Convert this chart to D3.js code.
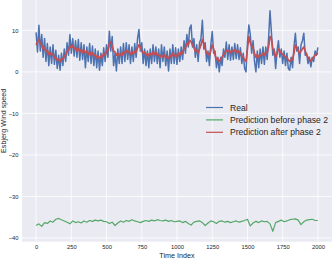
<!DOCTYPE html>
<html>
<head>
<meta charset="UTF-8">
<title>Esbjerg Wind speed</title>
<script src="https://cdn.jsdelivr.net/npm/d3@7"></script>
<style>
    body, html { margin: 0; padding: 0; background: #fff; }
    svg { display: block; font-family: "Liberation Sans", Arial, sans-serif; }
</style>
</head>
<body>
<svg id="chart" width="332" height="260"></svg>
<script>
    // one value every 10 time steps (0..2000)
    var step = 10;
    var real = [
        9.5, 4.8, 11.2, 5.0, 9.0, 3.5, 8.0, 2.5, 6.8, 1.5,
        6.0, 2.0, 6.5, 1.8, 5.2, 0.8, 4.0, 0.4, 4.5, 1.5,
        5.5, 2.5, 7.0, 4.0, 9.0, 4.5, 8.0, 3.8, 7.5, 3.5,
        7.8, 2.8, 7.0, 3.0, 6.5, 1.0, 6.0, 2.5, 6.8, 2.0,
        6.2, 1.5, 5.5, 1.0, 5.0, 0.4, 4.5, 1.5, 5.8, 2.5,
        6.5, 3.5, 9.8, 5.0, 8.5, 1.5, 4.5, 0.2, 5.5, 2.0,
        6.0, 2.0, 6.8, 2.5, 7.0, 3.0, 6.5, 2.0, 6.0, 2.5,
        6.8, 3.5, 8.0, 10.2, 5.0, 7.0, 2.0, 5.5, 1.5, 5.0,
        1.0, 5.5, 2.0, 6.5, 2.5, 6.0, 2.0, 5.5, 1.0, 6.5,
        2.5, 6.0, 1.5, 5.0, 0.2, 5.5, 2.0, 6.5, 2.0, 5.8,
        1.8, 5.5, 2.5, 6.0, 3.0, 7.5, 4.5, 9.0, 6.0, 10.5,
        11.3, 6.0, 8.0, 3.5, 6.5, 2.5, 7.0, 8.0, 12.4, 5.5,
        7.0, 2.5, 5.0, 1.5, 6.5, 9.7, 4.5, 5.0, 1.0, 3.5,
        0.0, 3.5, 1.5, 5.5, 3.5, 7.2, 3.0, 6.5, 2.8, 6.0,
        3.0, 6.8, 3.2, 6.5, 3.0, 5.8, 2.0, 4.5, 0.8, 0.0,
        7.0, 11.3, 9.0, 4.5, 7.5, 2.5, 0.0, 5.0, 1.0, 5.5,
        2.0, 6.0, 1.8, 6.0, 3.0, 8.0, 14.7, 9.5, 4.0, 5.5,
        0.8, 5.0, 7.5, 3.5, 5.5, 2.0, 5.0, 1.5, 4.5, 0.8,
        0.4, 3.5, 1.0, 6.0, 9.3, 5.0, 6.0, 2.0, 6.5, 7.5,
        9.3, 4.0, 4.5, 2.0, 3.5, 1.2, 3.5, 2.5, 5.0, 4.0,
        5.9
    ];
    var predAfter = [
        6.5, 7.2, 7.8, 6.8, 6.5, 5.5, 5.8, 4.8, 5.2, 4.2,
        4.6, 4.0, 4.3, 3.4, 3.5, 2.8, 3.0, 2.4, 3.2, 3.0,
        3.8, 4.0, 5.0, 5.2, 6.2, 5.8, 6.4, 5.5, 5.9, 5.0,
        5.6, 4.8, 5.4, 4.6, 5.3, 4.5, 5.0, 4.2, 4.8, 4.0,
        4.6, 3.8, 4.2, 3.4, 3.8, 3.2, 3.8, 3.6, 4.5, 4.0,
        5.0, 5.2, 6.8, 7.2, 6.2, 5.0, 4.8, 4.0, 4.5, 3.8,
        4.3, 4.0, 4.8, 4.5, 5.2, 4.6, 5.0, 4.2, 4.8, 4.2,
        5.0, 4.8, 5.8, 6.5, 6.0, 5.0, 4.5, 4.8, 4.0, 4.5,
        3.8, 4.4, 4.0, 4.8, 4.2, 4.8, 4.0, 4.2, 3.5, 4.0,
        3.6, 4.2, 3.4, 3.8, 3.2, 4.0, 3.6, 4.5, 3.8, 4.2,
        3.6, 4.5, 4.0, 4.8, 4.5, 5.6, 5.8, 6.8, 6.5, 7.6,
        7.2, 6.5, 5.8, 5.0, 5.2, 4.5, 5.5, 6.5, 7.8, 6.8,
        5.5, 4.5, 4.5, 4.0, 5.2, 6.5, 5.5, 4.0, 3.0, 3.2,
        2.5, 3.0, 3.5, 4.2, 4.5, 5.2, 4.8, 5.2, 4.6, 5.0,
        4.8, 5.4, 4.6, 5.2, 4.8, 4.6, 3.8, 3.5, 2.8, 2.5,
        5.5, 8.5, 7.0, 6.2, 5.8, 4.5, 3.5, 4.2, 3.5, 4.0,
        4.0, 4.5, 4.0, 4.8, 4.5, 6.0, 8.5, 8.0, 5.5, 5.0,
        3.5, 4.5, 5.5, 5.0, 4.5, 4.2, 4.0, 3.5, 3.5, 2.8,
        2.5, 3.0, 3.0, 4.5, 6.5, 5.8, 5.0, 4.5, 5.0, 5.5,
        6.0, 5.0, 4.0, 3.5, 3.0, 2.5, 3.2, 3.5, 4.0, 4.2,
        4.5
    ];
    // one value every 20 time steps
    var greenStep = 20;
    var predBefore = [
        -37.0, -36.6, -37.2, -36.3, -36.5, -35.9, -36.2, -35.5, -35.3, -35.6,
        -35.9, -36.2, -36.6, -35.9, -36.3, -36.1, -36.4, -35.9, -36.2, -35.8,
        -36.0, -35.7, -35.9, -35.7, -36.0, -36.1, -36.5, -36.2, -37.0, -36.4,
        -35.9, -36.2, -35.8, -36.0, -35.6, -35.9, -36.1, -36.3, -36.0, -35.8,
        -36.0, -35.7, -35.9, -35.6, -35.8, -35.9, -35.7, -36.0, -35.8, -36.1,
        -36.0, -35.9, -36.3, -36.0, -36.5, -36.9, -36.2, -36.0, -35.9, -36.3,
        -37.0, -36.4, -35.9, -36.1, -36.5, -36.0, -35.9, -36.2, -36.0, -36.3,
        -36.1, -35.9, -36.2, -36.0, -35.8, -35.5, -37.1, -36.4, -36.0, -36.3,
        -35.9, -36.1, -36.0, -36.6, -38.4, -36.3, -36.0, -35.7, -36.1, -35.9,
        -35.6, -35.5, -35.4, -35.7, -36.8, -36.1, -35.7, -35.6, -35.5, -35.8,
        -35.8
    ];
    var xTicks = [0, 250, 500, 750, 1000, 1250, 1500, 1750, 2000];
    var yTicks = [-40, -30, -20, -10, 0, 10];
    var seriesNames = ["Real", "Prediction before phase 2", "Prediction after phase 2"];
    var seriesColors = ["#4C72B0", "#55A868", "#C44E52"];

    var svg = d3.select("#chart");
    var plotLeft = 22, plotRight = 332, plotTop = 0, plotBottom = 241.7;

    var x = d3.scaleLinear().domain([-100, 2100]).range([plotLeft, plotRight]);
    var y = d3.scaleLinear().domain([-40.9, 17.3]).range([plotBottom, plotTop]);

    svg.append("rect")
        .attr("x", plotLeft).attr("y", plotTop)
        .attr("width", plotRight - plotLeft).attr("height", plotBottom - plotTop)
        .attr("fill", "#EAEAF2");

    // grid
    svg.append("g").selectAll("line").data(xTicks).enter().append("line")
        .attr("x1", d => x(d)).attr("x2", d => x(d))
        .attr("y1", plotTop).attr("y2", plotBottom)
        .attr("stroke", "#fff").attr("stroke-width", 0.8);
    svg.append("g").selectAll("line").data(yTicks).enter().append("line")
        .attr("x1", plotLeft).attr("x2", plotRight)
        .attr("y1", d => y(d)).attr("y2", d => y(d))
        .attr("stroke", "#fff").attr("stroke-width", 0.8);

    // axes with no domain line / tick marks, seaborn style
    var xAxis = svg.append("g")
        .attr("transform", "translate(0," + plotBottom + ")")
        .call(d3.axisBottom(x).tickValues(xTicks).tickSize(0).tickPadding(3)
            .tickFormat(d3.format("d")));
    var yAxis = svg.append("g")
        .attr("transform", "translate(" + plotLeft + ",0)")
        .call(d3.axisLeft(y).tickValues(yTicks).tickSize(0).tickPadding(3.5)
            .tickFormat(d => d < 0 ? "\u2212" + Math.abs(d) : d));
    [xAxis, yAxis].forEach(function (a) {
        a.select(".domain").remove();
        a.selectAll("text")
            .attr("fill", "#262626")
            .attr("font-size", "5.8px")
            .attr("font-family", "Liberation Sans, Arial, sans-serif");
    });

    var line = function (s) {
        return d3.line().x((d, i) => x(i * s)).y(d => y(d));
    };

    svg.append("path").datum(real)
        .attr("d", line(step))
        .attr("fill", "none").attr("stroke", seriesColors[0])
        .attr("stroke-width", 1.5).attr("stroke-linejoin", "round");
    svg.append("path").datum(predBefore)
        .attr("d", line(greenStep))
        .attr("fill", "none").attr("stroke", seriesColors[1])
        .attr("stroke-width", 1.2).attr("stroke-linejoin", "round");
    svg.append("path").datum(predAfter)
        .attr("d", line(step))
        .attr("fill", "none").attr("stroke", seriesColors[2])
        .attr("stroke-width", 1.7).attr("stroke-linejoin", "round");

    // legend
    var legend = svg.append("g").attr("transform", "translate(206,107.5)");
    var item = legend.selectAll("g").data(seriesNames).enter().append("g")
        .attr("transform", (d, i) => "translate(0," + i * 12.4 + ")");
    item.append("line")
        .attr("x1", 0).attr("x2", 17)
        .attr("stroke", (d, i) => seriesColors[i])
        .attr("stroke-width", 1.2);
    item.append("text")
        .attr("x", 24).attr("dy", "0.35em")
        .attr("font-size", "8.6px")
        .attr("fill", "#262626")
        .text(d => d);

    // axis labels
    svg.append("text")
        .attr("x", x(1000)).attr("y", 257.5)
        .attr("text-anchor", "middle")
        .attr("font-size", "7.2px").attr("fill", "#262626")
        .text("Time Index");
    svg.append("text")
        .attr("transform", "translate(6," + ((plotTop + plotBottom) / 2) + ") rotate(-90)")
        .attr("text-anchor", "middle")
        .attr("font-size", "7.2px").attr("fill", "#262626")
        .text("Esbjerg Wind speed");
</script>
</body>
</html>
